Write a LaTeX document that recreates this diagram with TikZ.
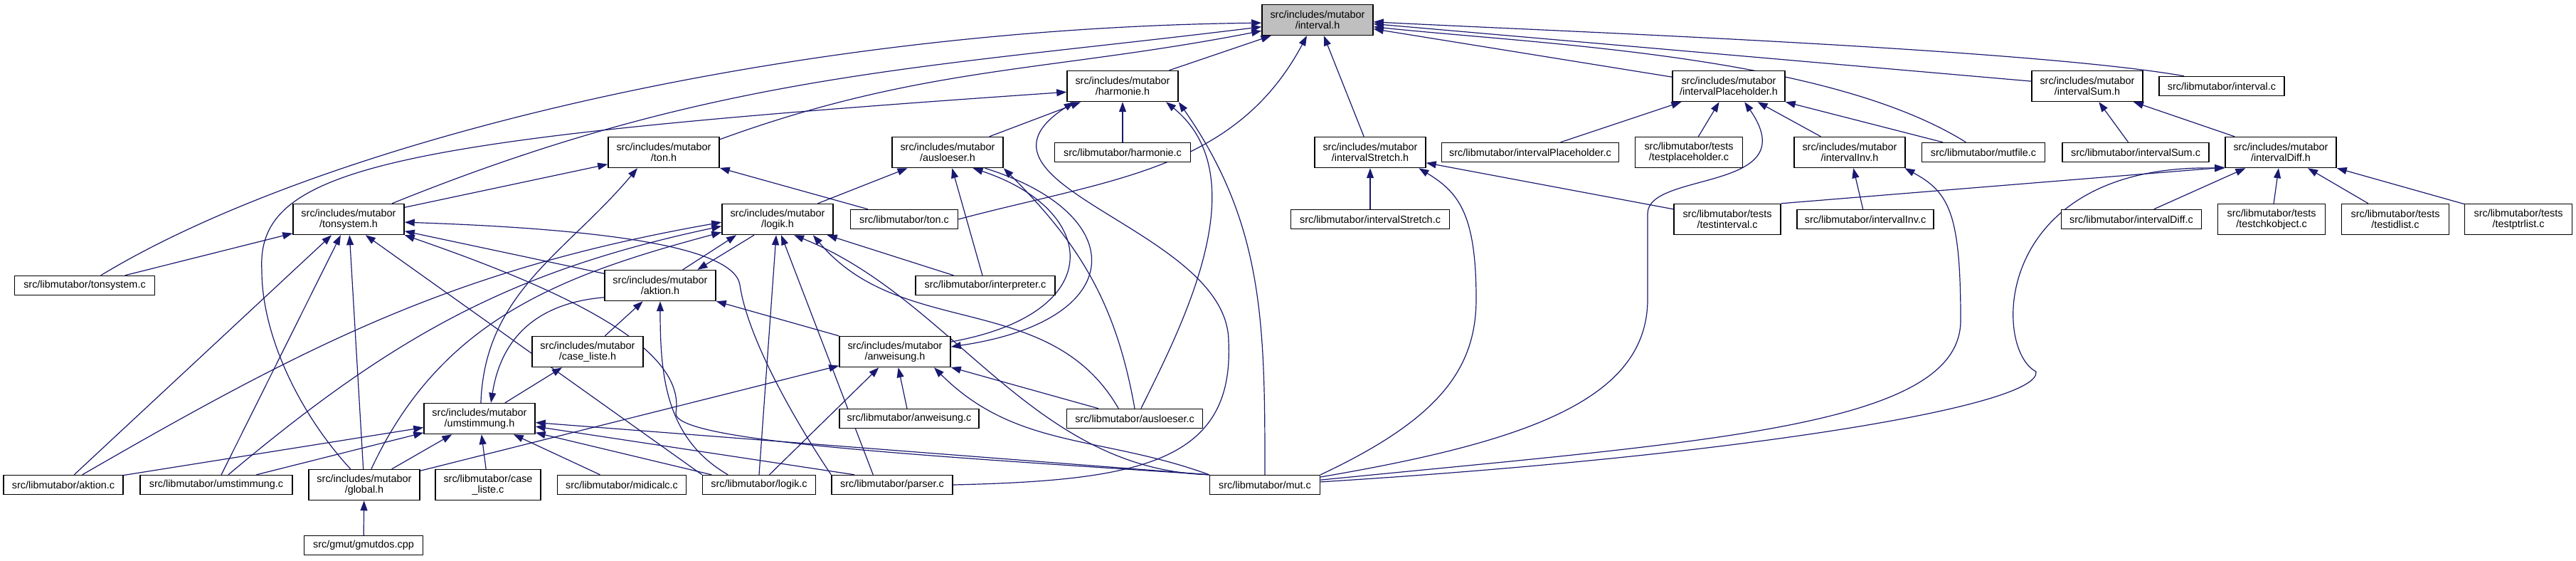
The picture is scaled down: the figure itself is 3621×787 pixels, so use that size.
\documentclass[tikz,border=0pt]{standalone}
\usepackage{fontspec}
\setmainfont{Liberation Sans}
\usepackage{xcolor}
\usepackage{tikz}
\usetikzlibrary{arrows.meta, backgrounds}
\definecolor{EdgeBlue}{RGB}{25,25,112}
\definecolor{NodeGray}{RGB}{191,191,191}

\begin{document}
\begin{tikzpicture}[x=0.01cm, y=-0.01cm,
		box/.style={draw=black, fill=white, line width=0.4pt, inner sep=0pt, align=center, font=\fontsize{4.1}{4.3}\selectfont},
		hfile/.style={box, minimum width=1.56cm, minimum height=0.43cm},
		cfile/.style={box, minimum height=0.27cm},
		dep/.style={EdgeBlue, line width=0.34pt, -{Triangle[length=0.14cm, width=0.1cm]}}]
		\useasboundingbox (0,0) rectangle (3621,787);
		% 第一、二层
		\node[hfile, fill=NodeGray] (intervalh) at (1852,28) {src/includes/mutabor\\/interval.h};
		\node[hfile] (harmonieh) at (1578,121) {src/includes/mutabor\\/harmonie.h};
		\node[hfile, minimum width=1.58cm] (intervalPh) at (2430,121) {src/includes/mutabor\\/intervalPlaceholder.h};
		\node[hfile] (intervalSumh) at (2934,121) {src/includes/mutabor\\/intervalSum.h};
		\node[cfile, minimum width=1.76cm] (intervalc) at (3123,121) {src/libmutabor/interval.c};
		% 第三层
		\node[hfile] (tonh) at (933,214) {src/includes/mutabor\\/ton.h};
		\node[hfile] (ausloeserh) at (1332,214) {src/includes/mutabor\\/ausloeser.h};
		\node[cfile, minimum width=1.91cm] (harmoniec) at (1578,214) {src/libmutabor/harmonie.c};
		\node[hfile] (intervalStretchh) at (1926,214) {src/includes/mutabor\\/intervalStretch.h};
		\node[cfile, minimum width=2.49cm] (intervalPc) at (2151,214) {src/libmutabor/intervalPlaceholder.c};
		\node[hfile, minimum width=1.51cm] (testplaceholderc) at (2374,214) {src/libmutabor/tests\\/testplaceholder.c};
		\node[hfile] (intervalInvh) at (2600,214) {src/includes/mutabor\\/intervalInv.h};
		\node[cfile, minimum width=1.73cm] (mutfilec) at (2788,214) {src/libmutabor/mutfile.c};
		\node[cfile, minimum width=2.06cm] (intervalSumc) at (3002,214) {src/libmutabor/intervalSum.c};
		\node[hfile] (intervalDiffh) at (3206,214) {src/includes/mutabor\\/intervalDiff.h};
		% 第四层
		\node[hfile] (tonsysh) at (490,308) {src/includes/mutabor\\/tonsystem.h};
		\node[hfile] (logikh) at (1093,308) {src/includes/mutabor\\/logik.h};
		\node[cfile, minimum width=1.51cm] (tonc) at (1271,308) {src/libmutabor/ton.c};
		\node[cfile, minimum width=2.23cm] (intervalStretchc) at (1926,308) {src/libmutabor/intervalStretch.c};
		\node[hfile, minimum width=1.50cm] (testintervalc) at (2428,308) {src/libmutabor/tests\\/testinterval.c};
		\node[cfile, minimum width=1.92cm] (intervalInvc) at (2622,308) {src/libmutabor/intervalInv.c};
		\node[cfile, minimum width=1.97cm] (intervalDiffc) at (2996,308) {src/libmutabor/intervalDiff.c};
		\node[hfile, minimum width=1.51cm] (testchkobjectc) at (3193,308) {src/libmutabor/tests\\/testchkobject.c};
		\node[hfile, minimum width=1.51cm] (testidlistc) at (3367,308) {src/libmutabor/tests\\/testidlist.c};
		\node[hfile, minimum width=1.51cm] (testptrlistc) at (3540,308) {src/libmutabor/tests\\/testptrlist.c};
		% 第五、六、七层
		\node[cfile, minimum width=1.97cm] (tonsysc) at (119,401) {src/libmutabor/tonsystem.c};
		\node[hfile] (aktionh) at (928,401) {src/includes/mutabor\\/aktion.h};
		\node[cfile, minimum width=1.96cm] (interpreterc) at (1385,401) {src/libmutabor/interpreter.c};
		\node[hfile] (caselisteh) at (826,494) {src/includes/mutabor\\/case\_liste.h};
		\node[hfile] (anweisungh) at (1258,494) {src/includes/mutabor\\/anweisung.h};
		\node[hfile] (umstimmungh) at (674,588) {src/includes/mutabor\\/umstimmung.h};
		\node[cfile, minimum width=1.96cm] (anweisungc) at (1278,588) {src/libmutabor/anweisung.c};
		\node[cfile, minimum width=1.91cm] (ausloeserc) at (1595,588) {src/libmutabor/ausloeser.c};
		% 底层
		\node[cfile, minimum width=1.68cm] (aktionc) at (89,681) {src/libmutabor/aktion.c};
		\node[cfile, minimum width=2.14cm] (umstimmungc) at (304,681) {src/libmutabor/umstimmung.c};
		\node[hfile] (globalh) at (512,681) {src/includes/mutabor\\/global.h};
		\node[hfile, minimum width=1.48cm] (caselistec) at (686,681) {src/libmutabor/case\\\_liste.c};
		\node[cfile, minimum width=1.81cm] (midicalcc) at (874,681) {src/libmutabor/midicalc.c};
		\node[cfile, minimum width=1.59cm] (logikc) at (1067,681) {src/libmutabor/logik.c};
		\node[cfile, minimum width=1.70cm] (parserc) at (1254,681) {src/libmutabor/parser.c};
		\node[cfile, minimum width=1.55cm] (mutc) at (1778,681) {src/libmutabor/mut.c};
		\node[cfile, minimum width=1.67cm] (gmutdoscpp) at (511,766) {src/gmut/gmutdos.cpp};
		\begin{scope}[on background layer]
		% 指向 interval.h
		\draw[dep] (tonsysc.32) .. controls (450,200) and (1100,40) .. (intervalh.183);
		\draw[dep] (tonsysh.20) to[out=22, in=187] (intervalh.187);
		\draw[dep] (tonh.13) to[out=20, in=191] (intervalh.191);
		\draw[dep] (harmonieh) -- (intervalh);
		\draw[dep] (tonc.east) to[out=15, in=-118] (intervalh.236);
		\draw[dep] (intervalStretchh) -- (intervalh);
		\draw[dep] (intervalPh) -- (intervalh);
		\draw[dep] (mutfilec.150) to[out=148, in=-6, looseness=0.7] (intervalh.-7);
		\draw[dep] (intervalSumh.175) -- (intervalh.-4);
		\draw[dep] (intervalc.165) to[out=170, in=-3, looseness=0.5] (intervalh.-2);
		% 指向 harmonie.h
		\draw[dep] (globalh.131) .. controls (420,580) and (368,470) .. (368,380) .. controls (360,235) and (540,195) .. (harmonieh.186);
		\draw[dep] (ausloeserh) -- (harmonieh);
		\draw[dep] (parserc.east) .. controls (1600,675) and (1735,650) .. (1727,480) .. controls (1727,320) and (1330,260) .. (harmonieh.198);
		\draw[dep] (harmoniec) -- (harmonieh);
		\draw[dep] (ausloeserc.58) .. controls (1660,460) and (1770,250) .. (harmonieh.-20);
		\draw[dep] (mutc.north) to[out=90, in=-55] (harmonieh.south east);
		% 指向 ton.h 和 ausloeser.h
		\draw[dep] (tonsysh) -- (tonh);
		\draw[dep] (umstimmungh.85) to[out=88, in=-130] (tonh.211);
		\draw[dep] (tonc) -- (tonh);
		\draw[dep] (logikh) -- (ausloeserh);
		\draw[dep] (interpreterc) -- (ausloeserh);
		\draw[dep] (anweisungh.10) .. controls (1560,440) and (1545,295) .. (ausloeserh.-32);
		\draw[dep] (ausloeserc.north) to[out=100, in=-45] (ausloeserh.south east);
		% 指向 tonsystem.h
		\draw[dep] (tonsysc) -- (tonsysh);
		\draw[dep] (aktionc) -- (tonsysh);
		\draw[dep] (umstimmungc) -- (tonsysh);
		\draw[dep] (globalh) -- (tonsysh);
		\draw[dep] (logikc.north west) -- (tonsysh.-43);
		\draw[dep] (aktionh) -- (tonsysh);
		\draw[dep] (parserc.north west) .. controls (1110,580) and (1050,470) .. (1040,400) .. controls (1030,340) and (800,320) .. (tonsysh.-3);
		\draw[dep] (mutc.north west) .. controls (1300,640) and (945,620) .. (950,580) .. controls (965,490) and (800,410) .. (tonsysh.south east);
		% 指向 logik.h
		\draw[dep] (aktionc.28) to[out=30, in=190] (logikh.183);
		\draw[dep] (umstimmungc.40) to[out=40, in=192] (logikh.187);
		\draw[dep] (globalh.66) to[out=65, in=195] (logikh.193);
		\draw[dep] (aktionh.35) -- (logikh.201);
		\draw[dep] (logikc.north) -- (logikh.-95);
		\draw[dep] (parserc.152) -- (logikh.-77);
		\draw[dep] (mutc.north west) .. controls (1450,660) and (1340,420) .. (logikh.-44);
		\draw[dep] (ausloeserc.148) to[out=120, in=-50] (logikh.-24);
		\draw[dep] (interpreterc) -- (logikh);
		% 指向 aktion.h
		\draw[dep] (logikh.214) -- (aktionh.23);
		\draw[dep] (caselisteh) -- (aktionh);
		\draw[dep] (logikc.162) to[out=150, in=-90] (aktionh.south);
		\draw[dep] (anweisungh) -- (aktionh);
		% 指向 umstimmung.h
		\draw[dep] (aktionh.192) .. controls (760,425) and (705,470) .. (umstimmungh.54);
		\draw[dep] (aktionc) -- (umstimmungh);
		\draw[dep] (umstimmungc) -- (umstimmungh);
		\draw[dep] (globalh) -- (umstimmungh);
		\draw[dep] (caselistec) -- (umstimmungh);
		\draw[dep] (midicalcc) -- (umstimmungh);
		\draw[dep] (logikc.168) -- (umstimmungh.-14);
		\draw[dep] (parserc.165) -- (umstimmungh.-8);
		\draw[dep] (mutc.north west) -- (umstimmungh.-4);
		% 其余头文件
		\draw[dep] (umstimmungh) -- (caselisteh);
		\draw[dep] (globalh) -- (anweisungh);
		\draw[dep] (logikc) -- (anweisungh);
		\draw[dep] (anweisungc) -- (anweisungh);
		\draw[dep] (mutc.north west) to[out=160, in=-45] (anweisungh.-22);
		\draw[dep] (ausloeserc) -- (anweisungh);
		\draw[dep] (ausloeserh.-23) .. controls (1590,300) and (1590,450) .. (anweisungh.5);
		\draw[dep] (gmutdoscpp) -- (globalh);
		% 右侧 interval 系列
		\draw[dep] (intervalStretchc) -- (intervalStretchh);
		\draw[dep] (testintervalc) -- (intervalStretchh);
		\draw[dep] (mutc.north east) .. controls (2020,590) and (2075,520) .. (2075,420) .. controls (2075,300) and (2050,270) .. (intervalStretchh.-18);
		\draw[dep] (intervalPc) -- (intervalPh);
		\draw[dep] (testplaceholderc) -- (intervalPh);
		\draw[dep] (mutc.8) .. controls (2150,620) and (2316,560) .. (2316,420) -- (2316,300) .. controls (2316,240) and (2540,270) .. (intervalPh.-45);
		\draw[dep] (intervalInvh) -- (intervalPh);
		\draw[dep] (mutfilec.166) -- (intervalPh.south east);
		\draw[dep] (intervalInvc) -- (intervalInvh);
		\draw[dep] (mutc.5) .. controls (2400,620) and (2756,600) .. (2756,450) .. controls (2756,300) and (2740,270) .. (intervalInvh.-16);
		\draw[dep] (intervalSumc) -- (intervalSumh);
		\draw[dep] (intervalDiffh) -- (intervalSumh);
		\draw[dep] (mutc.3) .. controls (2450,640) and (2870,570) .. (2862,522) .. controls (2800,490) and (2800,230) .. (intervalDiffh.south west);
		\draw[dep] (testintervalc.north east) -- (intervalDiffh.195);
		\draw[dep] (intervalDiffc) -- (intervalDiffh);
		\draw[dep] (testchkobjectc) -- (intervalDiffh);
		\draw[dep] (testidlistc) -- (intervalDiffh);
		\draw[dep] (testptrlistc) -- (intervalDiffh);
		\end{scope}
	\end{tikzpicture}
\end{document}
